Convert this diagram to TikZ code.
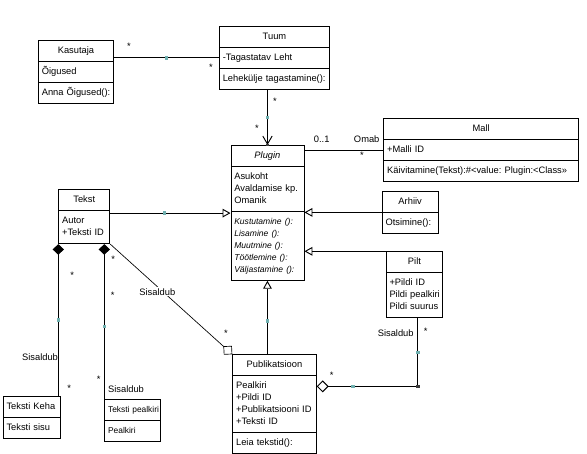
\documentclass[tikz,border=0pt]{standalone}
\usepackage{fontspec}
\setmainfont{Liberation Sans}
\usepackage{tikz}
\usetikzlibrary{
    arrows.meta,
    calc,
    shapes.multipart
}
\definecolor{handlecol}{RGB}{112,176,176}
\definecolor{bendcol}{RGB}{60,60,60}
\newcommand{\classname}[1]{\hfill#1\hfill\null}

\begin{document}
\begin{tikzpicture}[
x=0.75pt, y=-0.75pt,
line width=0.7pt,
every node/.style={font=\fontsize{7}{9}\selectfont},
umlclass/.style={
draw,
fill=white,
rectangle split,
rectangle split parts=#1,
anchor=north west,
inner xsep=2.5pt,
inner ysep=3pt,
align=left,
execute at begin node=\strut,
execute at end node=\strut
},
handle/.style={fill=handlecol, inner sep=0pt, minimum size=2.6pt},
bendpt/.style={fill=bendcol, inner sep=0pt, minimum size=2.6pt},
mult/.style={inner sep=0pt, yshift=-1.5pt},
lbl/.style={inner sep=1pt},
gen/.style={-{Triangle[open, length=6pt, width=6.5pt]}},
nav/.style={-{Straight Barb[length=6pt, width=7pt]}},
comp/.style={-{Diamond[length=8pt, width=8.5pt]}},
aggr/.style={-{Diamond[open, length=9pt, width=9pt]}}
]
\useasboundingbox (0,0) rectangle (587,454);

% classes
\node[umlclass=3, text width=51.25pt] (kasutaja) at (38,40)
{\classname{Kasutaja}%
\nodepart{two}Õigused%
\nodepart{three}Anna~Õigused():};

\node[umlclass=3, text width=77.5pt] (tuum) at (219,26)
{\classname{Tuum}%
\nodepart{two}-Tagastatav\ Leht%
\nodepart{three}Lehekülje~tagastamine():};

\node[umlclass=3, text width=49.75pt] (plugin) at (230.5,145)
{\classname{\textit{Plugin}}%
\nodepart{two}Asukoht\\Avaldamise~kp.\\Omanik%
\nodepart{three}\itshape\fontsize{6.4}{9}\selectfont
Kustutamine~():\\Lisamine~():\\Muutmine~():\\Töötlemine~():\\Väljastamine~():};

\node[umlclass=3, text width=141.25pt] (mall) at (383.3,118.3)
{\classname{Mall}%
\nodepart{two}+Malli~ID%
\nodepart{three}Käivitamine(Tekst):\#<value:~Plugin:<Class>>};

\node[umlclass=2, text width=37pt] (arhiiv) at (381.7,191)
{\classname{Arhiiv}%
\nodepart{two}Otsimine():};

\node[umlclass=2, text width=37.45pt] (pilt) at (385.7,251.3)
{\classname{Pilt}%
\nodepart{two}+Pildi~ID\\Pildi~pealkiri\\Pildi~suurus};

\node[umlclass=2, text width=33.25pt] (tekst) at (58.3,189.3)
{\classname{Tekst}%
\nodepart{two}Autor\\+Teksti~ID};

\node[umlclass=3, text width=57.55pt] (publ) at (232.3,354.3)
{\classname{Publikatsioon}%
\nodepart{two}Pealkiri\\+Pildi~ID\\+Publikatsiooni~ID\\+Teksti~ID%
\nodepart{three}Leia~tekstid():};

\node[umlclass=2, text width=37.98pt] (keha) at (2.7,396)
{Teksti~Keha%
\nodepart{two}Teksti~sisu};

\node[umlclass=2, text width=36.78pt,
font=\fontsize{6.3}{9}\selectfont] (pealkiri) at (104.3,399.3)
{Teksti~pealkiri%
\nodepart{two}Pealkiri};

% connector points
\coordinate (kt) at ($(tuum.text split west)!.5!(tuum.two split west)$);
\coordinate (pm) at ($(mall.text split west)!.5!(mall.two split west)$);
\coordinate (tp) at ([yshift=-1.8pt]tekst.text split east);
\coordinate (pp) at ([yshift=-8pt]publ.text split east);
\coordinate (pb) at ([xshift=2.5pt]pilt.south);

% associations
\draw (kasutaja.east |- kt) -- (kt)
node[pos=.5, handle] (h1) {};
\node[mult] (s1) at (129,44) {*};
\node[mult] (s2) at (211,65) {*};

\draw[nav] (plugin.north |- tuum.south) -- (plugin.north)
node[pos=.5, handle] (h2) {}
node[pos=1, bendpt, minimum size=2pt] (d1) {};
\node[mult] (s3) at (275,99) {*};
\node[mult] (s4) at (257,126) {*};

\draw (plugin.east |- pm) -- (pm);
\node[lbl] (c1) at (321.7,139) {0..1};
\node[lbl] (c2) at (366.7,139) {Omab};
\node[mult] (s5) at (362,153) {*};

% generalizations
\draw[gen] (tp) -- (tp -| plugin.west)
node[pos=.45, handle] (h3) {};
\draw[gen] (arhiiv.text split west) -- (arhiiv.text split west -| plugin.east);
\draw[gen] (pilt.north west) -- (pilt.north west -| plugin.east);
\draw[gen] (plugin.south |- publ.north) -- (plugin.south)
node[pos=.45, handle] (h4) {};

% compositions
\draw[comp] (tekst.south west |- keha.north) -- (tekst.south west)
node[pos=.5, handle] (h5) {};
\node[mult] (s6) at (72.3,273.3) {*};
\node[lbl] (c3) at (40,356.7) {Sisaldub};
\node[mult] (s7) at (69.3,386.7) {*};

\draw[comp] (pealkiri.north west) -- (pealkiri.north west |- tekst.south)
node[pos=.47, handle] (h6) {};
\node[mult] (s8) at (113.3,257.3) {*};
\node[mult] (s9) at (112.7,293.3) {*};
\node[mult] (s10) at (98.7,377.3) {*};
\node[lbl] (c4) at (126,389) {Sisaldub};

% aggregations
\draw[aggr, line width=0.5pt] (tekst.south east) -- (publ.north west);
\node[lbl, fill=white] (c5) at (157.3,291.7) {Sisaldub};
\node[mult] (s11) at (226,331.7) {*};

\draw[aggr] (pb) |- (pp)
node[pos=.25, handle] (h7) {}
node[pos=.5, bendpt] (d2) {}
node[pos=.82, handle] (h8) {};
\node[mult] (s12) at (331.7,373.3) {*};
\node[lbl] (c6) at (395.7,332.7) {Sisaldub};
\node[mult] (s13) at (425.7,329.3) {*};

\end{tikzpicture}
\end{document}
